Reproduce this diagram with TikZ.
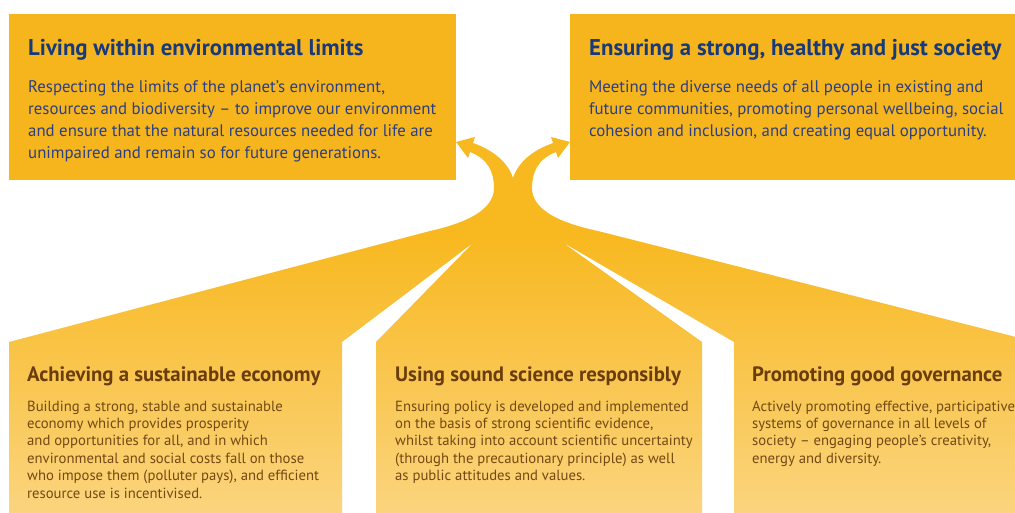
\documentclass[tikz,border=0pt]{standalone}
\usepackage{fontspec}
\setmainfont{PT Sans}
\definecolor{boxc}{HTML}{F7B51D}
\definecolor{flowtop}{HTML}{F8B81F}
\definecolor{flowbot}{HTML}{FAD47E}
\definecolor{navyt}{HTML}{183A7A}
\definecolor{navyb}{HTML}{2A3F82}
\definecolor{brownt}{HTML}{6A3D0C}
\definecolor{brownb}{HTML}{734914}
\pgfdeclareverticalshading{flowshade}{100bp}{color(0bp)=(flowbot); color(25bp)=(flowbot); color(62bp)=(flowtop); color(100bp)=(flowtop)}
\tikzset{
  toptitle/.style={anchor=base west, inner sep=0, text=navyt, font=\fontsize{22.8}{26}\selectfont\bfseries},
  topbody/.style={anchor=base west, inner sep=0, text=navyb, font=\fontsize{16.8}{21.7}\selectfont},
  bottitle/.style={anchor=base west, inner sep=0, text=brownt, font=\fontsize{20.8}{24}\selectfont\bfseries},
  botbody/.style={anchor=base west, inner sep=0, text=brownb, font=\fontsize{14.7}{17.4}\selectfont},
}
\newcommand{\lines}[1]{\parbox[t]{480pt}{#1}}
\begin{document}
\begin{tikzpicture}[x=1pt,y=-1pt]
\useasboundingbox (0,0) rectangle (1015,513);
% top boxes
\fill[boxc] (9,14) rectangle (456,180);
\fill[boxc] (570,14) rectangle (1015,180);
% flow shape with arrows and the three bottom panels
\path[shading=flowshade]
  (9,513) -- (9,342) -- (430,231)
  .. controls (466,223) and (494,210) .. (494,188)
  .. controls (494,172) and (488,159) .. (470,152)
  -- (468,158) -- (456,142) -- (475,137) -- (473,143)
  .. controls (495,151) and (508,163) .. (513,178)
  .. controls (518,163) and (531,151) .. (553,143)
  -- (551,137) -- (570,142) -- (558,158) -- (556,152)
  .. controls (538,159) and (532,172) .. (532,188)
  .. controls (532,210) and (560,223) .. (598,231)
  -- (1020,338) -- (1020,513) -- (734,513) -- (734,342) -- (562,242)
  -- (702,342) -- (702,513) -- (376,513) -- (376,342) -- (473,243)
  -- (342,342) -- (342,513) -- cycle;
% top texts
\node[toptitle] (t1) at (28,56) {Living within environmental limits};
\node[topbody] (b1) at (28,93) {\lines{Respecting the limits of the planet’s environment,\\
resources and biodiversity – to improve our environment\\
and ensure that the natural resources needed for life are\\
unimpaired and remain so for future generations.}};
\node[toptitle] (t2) at (589,56) {Ensuring a strong, healthy and just society};
\node[topbody] (b2) at (589,93) {\lines{Meeting the diverse needs of all people in existing and\\
future communities, promoting personal wellbeing, social\\
cohesion and inclusion, and creating equal opportunity.}};
% bottom texts
\node[bottitle] (t3) at (27,381) {Achieving a sustainable economy};
\node[botbody] (b3) at (27,411) {\lines{Building a strong, stable and sustainable\\
economy which provides prosperity\\
and opportunities for all, and in which\\
environmental and social costs fall on those\\
who impose them (polluter pays), and efficient\\
resource use is incentivised.}};
\node[bottitle] (t4) at (395,381) {Using sound science responsibly};
\node[botbody] (b4) at (395,411) {\lines{Ensuring policy is developed and implemented\\
on the basis of strong scientific evidence,\\
whilst taking into account scientific uncertainty\\
(through the precautionary principle) as well\\
as public attitudes and values.}};
\node[bottitle] (t5) at (752,381) {Promoting good governance};
\node[botbody] (b5) at (752,411) {\lines{Actively promoting effective, participative\\
systems of governance in all levels of\\
society – engaging people’s creativity,\\
energy and diversity.}};
\end{tikzpicture}
\end{document}
